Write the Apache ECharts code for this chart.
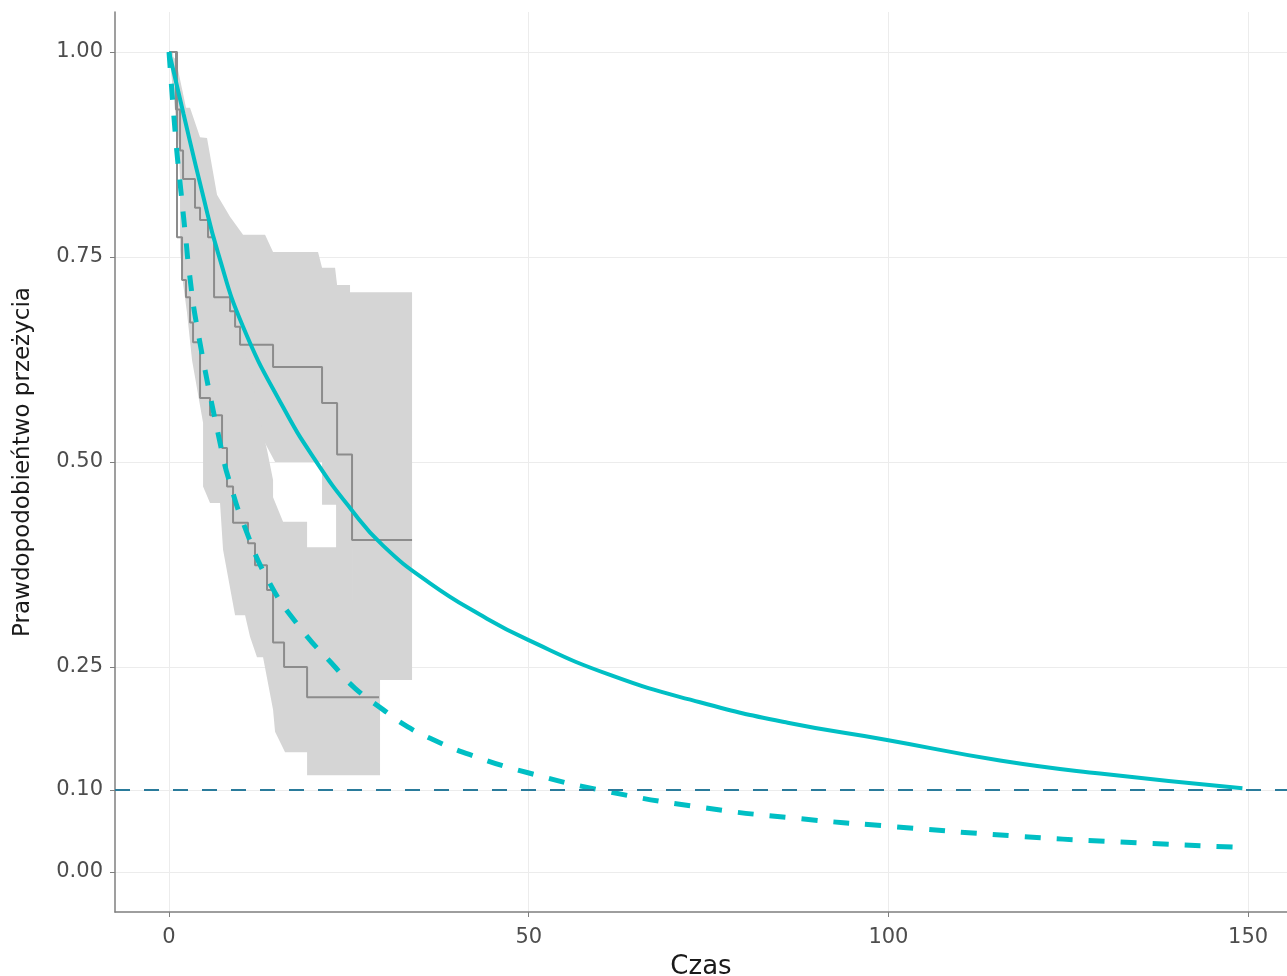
<!DOCTYPE html>
<html>
<head>
<meta charset="utf-8">
<title>Krzywe przeżycia</title>
<script src="https://cdn.jsdelivr.net/npm/echarts@6.0.0/dist/echarts.min.js"></script>
<style>
html, body { margin: 0; padding: 0; background: #fff; }
#main { width: 1287px; height: 976px; }
</style>
</head>
<body>
<div id="main"></div>
<script>
// osie
var xTicks = [0, 50, 100, 150];
var yTicks = [0, 0.10, 0.25, 0.50, 0.75, 1.00];
var threshold = 0.10;

// Kaplan-Meier, grupa A (wyzsza krzywa)
var kmATime = [0, 0.97, 1.53, 1.95, 3.61, 4.31, 5.42, 6.26, 8.48, 9.18, 9.87, 14.46, 21.27, 23.36, 25.44, 33.78];
var kmASurv = [1.0, 0.93, 0.88, 0.845, 0.81, 0.795, 0.774, 0.701, 0.684, 0.665, 0.643, 0.616, 0.572, 0.509, 0.405, 0.405];

// Kaplan-Meier, grupa B (nizsza krzywa)
var kmBTime = [0, 1.11, 1.81, 2.36, 2.92, 3.34, 4.31, 5.70, 7.37, 8.06, 8.90, 10.98, 11.95, 13.62, 14.46, 15.99, 19.19, 29.19];
var kmBSurv = [1.0, 0.774, 0.722, 0.701, 0.670, 0.646, 0.578, 0.557, 0.517, 0.470, 0.426, 0.401, 0.374, 0.344, 0.280, 0.250, 0.213, 0.213];

// przedzialy ufnosci [czas, prawdopodobienstwo]
var bandAUpper = [[0, 1.0], [0.97, 0.99], [2.36, 0.932], [2.92, 0.932], [4.31, 0.896], [5.28, 0.895], [6.67, 0.826],
  [8.48, 0.799], [10.29, 0.777], [13.35, 0.777], [14.46, 0.756], [20.71, 0.756], [21.27, 0.737], [23.08, 0.737],
  [23.36, 0.716], [25.16, 0.716], [25.16, 0.707], [33.78, 0.707]];
var bandALower = [[0, 1.0], [0.97, 0.917], [2.92, 0.82], [5.70, 0.722], [8.48, 0.637], [11.26, 0.563], [12.93, 0.53],
  [14.74, 0.5], [21.27, 0.5], [21.27, 0.448], [23.22, 0.448], [23.22, 0.395], [25.44, 0.395], [25.44, 0.234], [33.78, 0.234]];
var bandBUpper = [[0, 1.0], [0.97, 0.99], [2.92, 0.88], [5.70, 0.783], [8.48, 0.698], [11.26, 0.612], [13.07, 0.535],
  [13.62, 0.515], [14.46, 0.478], [14.46, 0.457], [15.85, 0.427], [19.19, 0.427], [19.19, 0.396], [25.44, 0.396],
  [25.44, 0.332], [29.33, 0.332]];
var bandBLower = [[0, 1.0], [0.56, 0.999], [1.11, 0.929], [1.53, 0.844], [1.53, 0.759], [1.95, 0.718], [2.50, 0.682],
  [3.20, 0.624], [4.73, 0.548], [4.73, 0.470], [5.70, 0.450], [7.09, 0.450], [7.51, 0.393], [9.18, 0.313], [10.57, 0.313],
  [11.26, 0.287], [12.23, 0.262], [13.07, 0.262], [14.46, 0.198], [14.74, 0.171], [16.13, 0.146], [19.19, 0.146],
  [19.19, 0.118], [29.33, 0.118]];

// dopasowane modele
var fitSolidTime = [0, 2.0, 4.59, 6.81, 10.29, 15.85, 20.58, 25.16, 29.75, 36.29, 43.2, 49.91, 61.4, 73.8, 86.0, 99.8, 115.5, 129.4, 149.2];
var fitSolidSurv = [1.0, 0.925, 0.83, 0.755, 0.665, 0.567, 0.499, 0.444, 0.398, 0.352, 0.314, 0.283, 0.240, 0.207, 0.182, 0.161, 0.136, 0.120, 0.102];
var fitDashTime = [0, 0.97, 1.67, 2.36, 2.78, 3.89, 7.51, 8.48, 10.29, 13.76, 18.21, 23.08, 25.86, 29.75, 32.8, 36.3, 41.85, 49.9, 59.9, 73.8, 87.7, 99.8, 117.3, 131.2, 148.9];
var fitDashSurv = [1.0, 0.89, 0.829, 0.77, 0.734, 0.665, 0.506, 0.474, 0.426, 0.356, 0.298, 0.25, 0.224, 0.198, 0.179, 0.163, 0.143, 0.121, 0.100, 0.079, 0.065, 0.056, 0.044, 0.037, 0.030];

function zip(a, b) {
    return a.map(function (v, i) { return [v, b[i]]; });
}

function polygonPoints(api, upper, lower) {
    var pts = [];
    upper.forEach(function (p) { pts.push(api.coord(p)); });
    for (var i = lower.length - 1; i >= 0; i--) pts.push(api.coord(lower[i]));
    return pts;
}

var chart = echarts.init(document.getElementById('main'));

var axisColor = '#7f7f7f';
var gridColor = '#ececec';
var teal = '#00BFC4';
var labelFont = { fontFamily: 'DejaVu Sans', fontSize: 21, color: '#4d4d4d' };

var option = {
    animation: false,
    grid: { left: 115, right: 0, top: 12, bottom: 64, outerBoundsMode: 'none', containLabel: false },
    xAxis: {
        type: 'value',
        min: -7.51,
        max: 155.4,
        name: 'Czas',
        nameLocation: 'middle',
        nameGap: 42,
        nameTextStyle: { fontFamily: 'DejaVu Sans', fontSize: 26, color: '#1a1a1a' },
        axisLine: { show: true, onZero: false, lineStyle: { color: axisColor, width: 1.5 } },
        axisTick: { show: true, length: 5, customValues: xTicks, lineStyle: { color: axisColor } },
        axisLabel: Object.assign({ customValues: xTicks, margin: 15 }, labelFont),
        splitLine: { show: true, lineStyle: { color: gridColor, width: 1 } }
    },
    yAxis: {
        type: 'value',
        min: -0.0488,
        max: 1.0488,
        name: 'Prawdopodobieńtwo przeżycia',
        nameLocation: 'middle',
        nameGap: 80,
        nameTextStyle: { fontFamily: 'DejaVu Sans', fontSize: 23, color: '#1a1a1a' },
        axisLine: { show: true, onZero: false, lineStyle: { color: axisColor, width: 1.5 } },
        axisTick: { show: true, length: 5, customValues: yTicks, lineStyle: { color: axisColor } },
        axisLabel: Object.assign({
            customValues: yTicks, margin: 12,
            formatter: function (v) { return v.toFixed(2); }
        }, labelFont),
        splitLine: { show: true, lineStyle: { color: gridColor, width: 1 } }
    },
    series: [
        {
            // przedzialy ufnosci
            type: 'custom',
            silent: true,
            z: 1,
            data: [[0, 1]],
            encode: { x: 0, y: 1 },
            renderItem: function (params, api) {
                return {
                    type: 'group',
                    children: [
                        { type: 'polygon', shape: { points: polygonPoints(api, bandAUpper, bandALower) }, style: { fill: '#d5d5d5' } },
                        { type: 'polygon', shape: { points: polygonPoints(api, bandBUpper, bandBLower) }, style: { fill: '#d5d5d5' } }
                    ]
                };
            }
        },
        {
            type: 'line',
            step: 'end',
            z: 2,
            symbol: 'none',
            data: zip(kmATime, kmASurv),
            lineStyle: { color: '#8c8c8c', width: 2 }
        },
        {
            type: 'line',
            step: 'end',
            z: 2,
            symbol: 'none',
            data: zip(kmBTime, kmBSurv),
            lineStyle: { color: '#8c8c8c', width: 2 }
        },
        {
            type: 'line',
            z: 3,
            symbol: 'none',
            smooth: 0.5,
            data: zip(fitSolidTime, fitSolidSurv),
            lineStyle: { color: teal, width: 4 }
        },
        {
            type: 'line',
            z: 3,
            symbol: 'none',
            smooth: 0.5,
            data: zip(fitDashTime, fitDashSurv),
            lineStyle: { color: teal, width: 5, type: [16, 16] },
            markLine: {
                silent: true,
                symbol: ['none', 'none'],
                label: { show: false },
                data: [{ yAxis: threshold }],
                lineStyle: { color: '#2a7b9b', width: 2, type: [15, 14] }
            }
        }
    ]
};

chart.setOption(option);
</script>
</body>
</html>
